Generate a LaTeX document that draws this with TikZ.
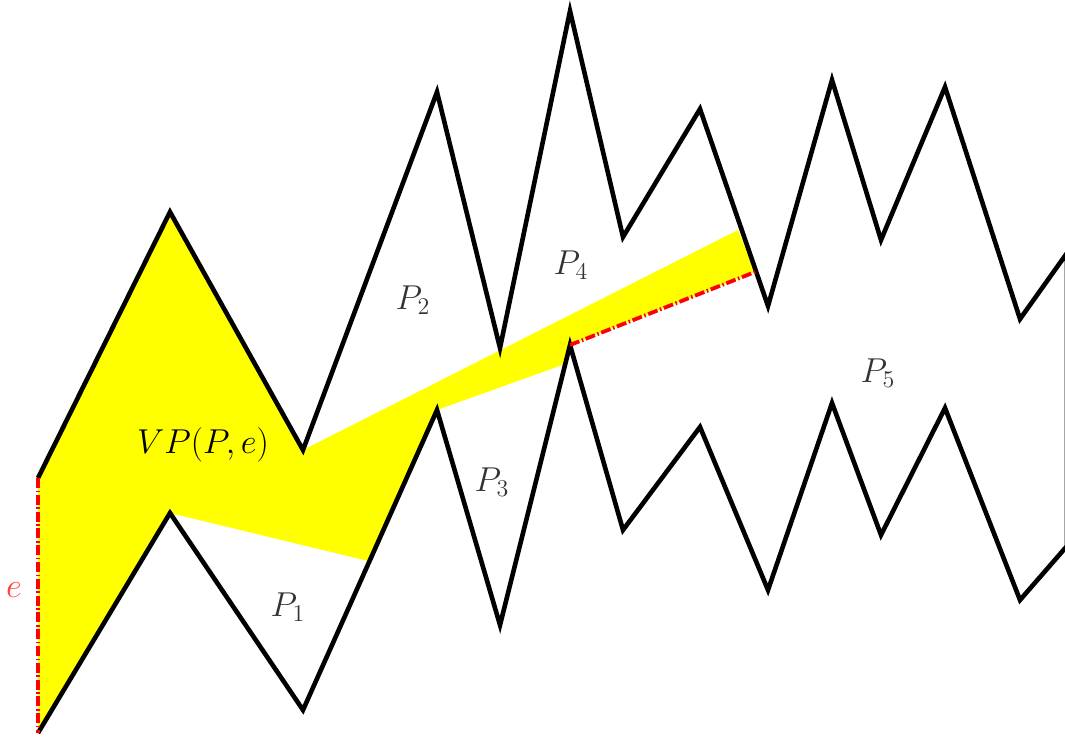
\documentclass[tikz,border=0pt]{standalone}
\definecolor{visyellow}{RGB}{255,255,0}
\definecolor{winred}{RGB}{255,0,0}
\begin{document}
\begin{tikzpicture}[x=0.5pt,y=-0.5pt,
  poly/.style={draw=black,line width=2.3pt,line join=miter},
  vis/.style={fill=visyellow},
  window/.style={draw=winred,line width=1.9pt,dash pattern=on 5pt off 1.3pt on 0.8pt off 1.3pt},
  lbl/.style={text=black!80,font=\fontsize{17}{20}\selectfont},
  elbl/.style={text=winred!75,font=\fontsize{17}{20}\selectfont}]
\useasboundingbox (0,0) rectangle (1065,738);
% upper chain
\coordinate (a0) at (38,478);
\coordinate (a1) at (170,212);
\coordinate (a2) at (303,450);
\coordinate (a3) at (437,92);
\coordinate (a4) at (500,348);
\coordinate (a5) at (570,11);
\coordinate (a6) at (623,237);
\coordinate (a7) at (700,109);
\coordinate (a8) at (768,306);
\coordinate (a9) at (832,80);
\coordinate (a10) at (881,240);
\coordinate (a11) at (945,87);
\coordinate (a12) at (1020,319);
\coordinate (a13) at (1067,253);
% lower chain
\coordinate (b13) at (1067,546);
\coordinate (b12) at (1020,600);
\coordinate (b11) at (945,408);
\coordinate (b10) at (881,535);
\coordinate (b9) at (832,403);
\coordinate (b8) at (768,590);
\coordinate (b7) at (700,427);
\coordinate (b6) at (623,530);
\coordinate (b5) at (570,345);
\coordinate (b4) at (500,625);
\coordinate (b3) at (437,410);
\coordinate (b2) at (303,710);
\coordinate (b1) at (170,513);
\coordinate (b0) at (38,733);
% visibility region helper points
\coordinate (v1) at (738,230);
\coordinate (v2) at (755,272);
\coordinate (v3) at (565,364);
\coordinate (v4) at (368,561);
% yellow visibility polygon
\fill[vis] (b0) -- (a0) -- (a1) -- (a2) -- (v1) -- (v2) -- (b5) -- (v3) -- (b3) -- (v4) -- (b1) -- cycle;
% polygon (edge e drawn separately)
\draw[poly] (a0) -- (a1) -- (a2) -- (a3) -- (a4) -- (a5) -- (a6) -- (a7) -- (a8) -- (a9) -- (a10) -- (a11) -- (a12) -- (a13)
  -- (b13) -- (b12) -- (b11) -- (b10) -- (b9) -- (b8) -- (b7) -- (b6) -- (b5) -- (b4) -- (b3) -- (b2) -- (b1) -- (b0);
% windows
\draw[window] (a0) -- (b0);
\draw[window] (b5) -- (v2);
% labels
\node[lbl] (p1) at (288,607) {$P_1$};
\node[lbl] (p2) at (413,300) {$P_2$};
\node[lbl] (p3) at (492,482) {$P_3$};
\node[lbl] (p4) at (571,265) {$P_4$};
\node[lbl] (p5) at (878,373) {$P_5$};
\node[text=black,font=\fontsize{17}{20}\selectfont] (vp) at (203,445) {$VP(P,e)$};
\node[elbl] (e) at (14,590) {$e$};
\end{tikzpicture}
\end{document}
